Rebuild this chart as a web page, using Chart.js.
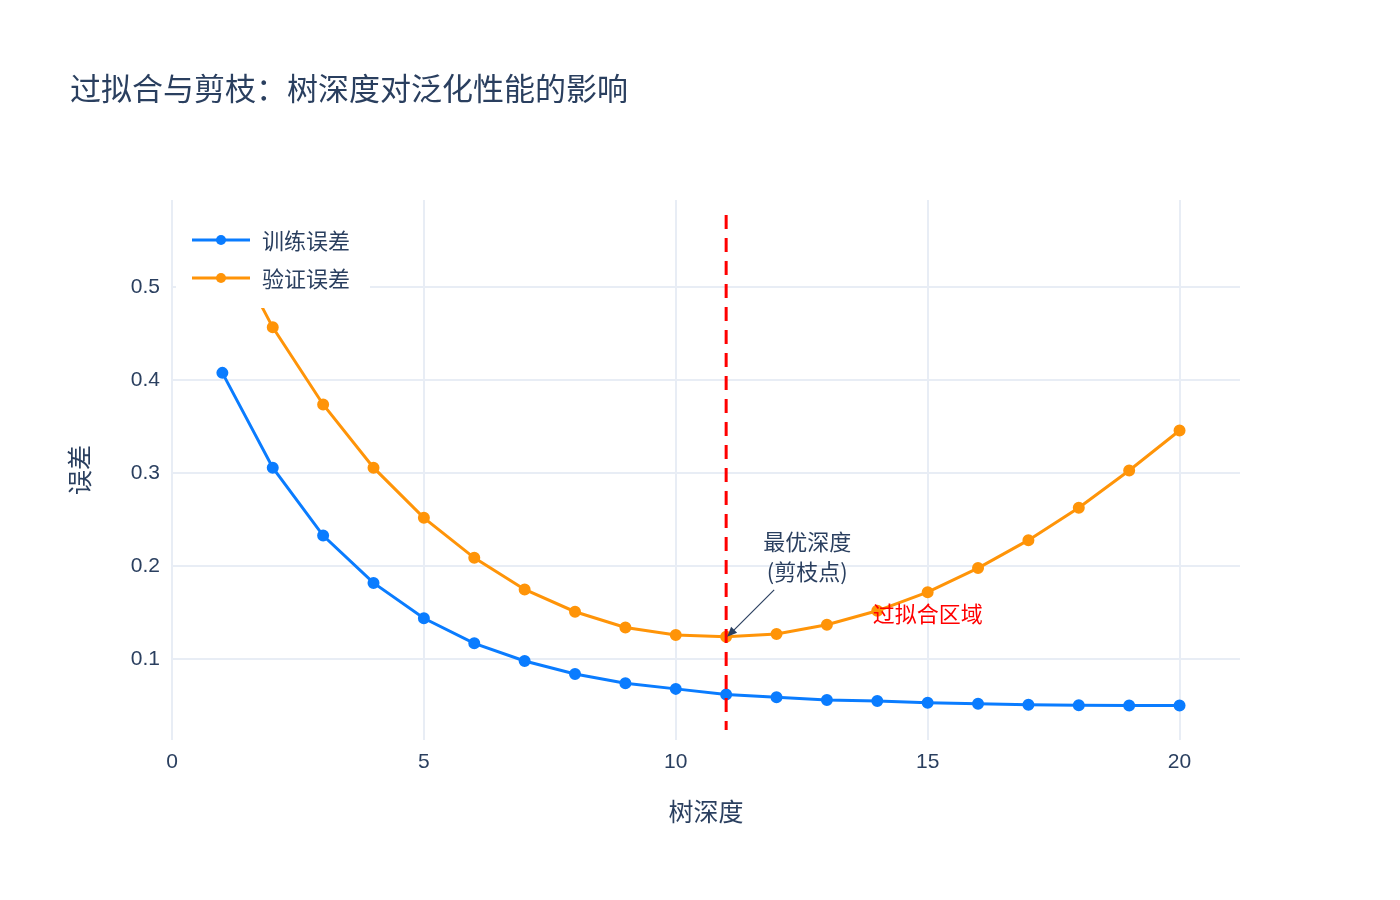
<!DOCTYPE html><html><head><meta charset="utf-8">
<script src="https://cdn.jsdelivr.net/npm/chart.js@4"></script>
<style>body{margin:0;background:#fff}#w{width:1400px;height:900px}</style></head><body><div id="w"><canvas id="c"></canvas></div>
<script>
const depths=[1,2,3,4,5,6,7,8,9,10,11,12,13,14,15,16,17,18,19,20];
const trainErr=[0.408,0.306,0.233,0.182,0.144,0.117,0.098,0.084,0.074,0.068,0.062,0.059,0.056,0.055,0.053,0.052,0.051,0.0505,0.05,0.05];
const valErr=[0.56,0.457,0.374,0.306,0.252,0.209,0.175,0.151,0.134,0.126,0.124,0.127,0.137,0.152,0.172,0.198,0.228,0.263,0.303,0.346];
const seriesNames=['训练误差','验证误差'];
const bestDepth=11;
const F='"Noto Sans CJK SC","Open Sans",sans-serif';
const NF='"Liberation Sans","Open Sans",sans-serif';
const C='#2a3f5f';
const deco={id:'deco',afterDatasetsDraw(ch){
 const {ctx,scales:{x,y},chartArea:a}=ch;ctx.save();
 ctx.fillStyle=C;ctx.font='31px '+F;ctx.textBaseline='middle';ctx.fillText('过拟合与剪枝：树深度对泛化性能的影响',70,88);
 ctx.strokeStyle='red';ctx.lineWidth=3;ctx.setLineDash([14,9]);
 const vx=x.getPixelForValue(bestDepth);ctx.beginPath();ctx.moveTo(vx,a.top+15);ctx.lineTo(vx,a.bottom-10);ctx.stroke();ctx.setLineDash([]);
 const px=vx,py=y.getPixelForValue(valErr[bestDepth-1]);
 ctx.font='22px '+F;ctx.textAlign='center';ctx.fillStyle=C;
 ctx.fillText('最优深度',px+81,py-95);ctx.fillText('(剪枝点)',px+81,py-65);
 ctx.strokeStyle=C;ctx.lineWidth=1.2;ctx.beginPath();ctx.moveTo(px+48,py-47);ctx.lineTo(px+3,py-2);ctx.stroke();
 ctx.fillStyle=C;ctx.beginPath();ctx.moveTo(px+1,py);ctx.lineTo(px+11,py-4);ctx.lineTo(px+5,py-10);ctx.closePath();ctx.fill();
 ctx.fillStyle='red';ctx.fillText('过拟合区域',x.getPixelForValue(15),y.getPixelForValue(0.149));
 ctx.fillStyle='#fff';ctx.fillRect(176,218,194,90);
 const cols=['#0a7cff','#ff9408'];
 seriesNames.forEach((n,i)=>{const yy=240+i*38;ctx.strokeStyle=cols[i];ctx.lineWidth=3;ctx.beginPath();ctx.moveTo(192,yy);ctx.lineTo(250,yy);ctx.stroke();
  ctx.fillStyle=cols[i];ctx.beginPath();ctx.arc(221,yy,5,0,7);ctx.fill();ctx.fillStyle=C;ctx.textAlign='left';ctx.font='22px '+F;ctx.fillText(n,262,yy+1);});
 ctx.restore();}};
const mk=(d,c,l)=>({label:l,data:depths.map((v,i)=>({x:v,y:d[i]})),borderColor:c,backgroundColor:c,borderWidth:3,pointRadius:4.5,pointHoverRadius:4.5,tension:0});
new Chart(document.getElementById('c'),{type:'line',data:{datasets:[mk(trainErr,'#0a7cff',seriesNames[0]),mk(valErr,'#ff9408',seriesNames[1])]},
options:{responsive:true,maintainAspectRatio:false,animation:false,layout:{padding:{left:60,right:160,top:200,bottom:70}},
plugins:{legend:{display:false},tooltip:{enabled:false}},
scales:{x:{type:'linear',min:0,max:21.2,afterFit:s=>{s.height=90},afterBuildTicks:s=>{s.ticks=[0,5,10,15,20].map(v=>({value:v}))},
 grid:{color:'#e8edf5',lineWidth:2,drawTicks:false},border:{display:false},ticks:{color:C,font:{size:21,family:NF},padding:10},
 title:{display:true,text:'树深度',color:C,font:{size:25,family:F},padding:{top:18}}},
 y:{min:0.013,max:0.594,afterFit:s=>{s.width=112},afterBuildTicks:s=>{s.ticks=[0.1,0.2,0.3,0.4,0.5].map(v=>({value:v}))},
 grid:{color:'#e8edf5',lineWidth:2,drawTicks:false},border:{display:false},ticks:{color:C,font:{size:21,family:NF},padding:12},
 title:{display:true,text:'误差',color:C,font:{size:25,family:F},padding:{bottom:22}}}}},plugins:[deco]});
</script></body></html>
